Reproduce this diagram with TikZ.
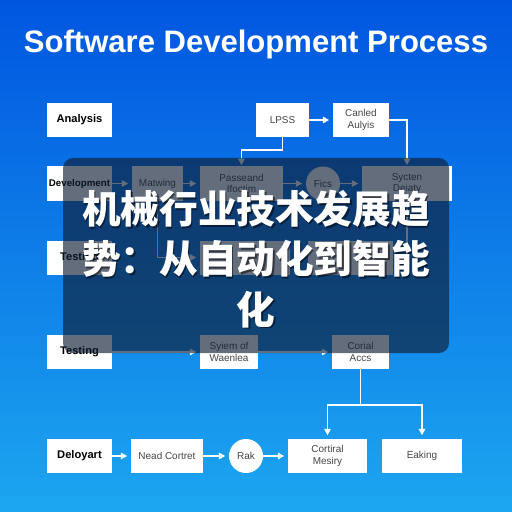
\documentclass[tikz,border=0pt]{standalone}
\usepackage{fontspec}
\setmainfont{Liberation Sans}
\newfontfamily\cjk{Noto Sans CJK SC}
\usepackage{tikz}
\usetikzlibrary{arrows.meta,positioning,calc}

\definecolor{bgtop}{RGB}{0,86,224}
\definecolor{bgbot}{RGB}{28,166,240}
\definecolor{veil}{RGB}{14,28,50}
\definecolor{labelgray}{RGB}{70,70,70}

\begin{document}
\begin{tikzpicture}[x=0.03cm, y=-0.03cm,
  >={Triangle[length=5.5pt,width=5.5pt]},
  phase/.style={fill=white, minimum width=1.95cm, minimum height=1.02cm, align=center, inner sep=0pt, font=\fontsize{9.5}{11}\selectfont\bfseries, text=black},
  proc/.style={fill=white, minimum height=1.02cm, align=center, inner sep=1pt, font=\fontsize{8.5}{10}\selectfont, text=labelgray},
  dot/.style={circle, fill=white, minimum size=1.02cm, inner sep=0pt, font=\fontsize{8.5}{10}\selectfont, text=labelgray},
  flow/.style={->, draw=white, line width=1.4pt, shorten >=3pt}]

  % background
  \fill[top color=bgtop, bottom color=bgbot] (0,0) rectangle (512,512);
  \useasboundingbox (0,0) rectangle (512,512);

  \node[font=\fontsize{26.5}{30}\selectfont\bfseries, text=white] (title) at (256,44) {Software Development Process};

  % phases - left column
  \node[phase] (analysis) at (79.5,120) {Analysis};
  \node[phase, font=\fontsize{8.3}{10}\selectfont\bfseries] (devel) at (79.5,183.5) {Development};
  \node[phase] (test1) at (79.5,257.5) {Testing};
  \node[phase] (test2) at (79.5,352) {Testing};
  \node[phase] (deploy) at (79.5,456) {Deloyart};

  % top row
  \node[proc, minimum width=1.59cm] (lpss) at (282.5,120) {LPSS};
  \node[proc, minimum width=1.68cm] (canled) at (361,120) {Canled\\Aulyis};

  % development row
  \node[proc, minimum width=1.53cm] (matwing) at (157.5,183.5) {Matwing};
  \node[proc, minimum width=2.49cm] (passe) at (241.5,183.5) {Passeand\\Ifoctim};
  \node[dot] (fics) at (323,183.5) {Fics};
  \node[proc, minimum width=2.7cm] (sycten) at (407,183.5) {Sycten\\Deiaty};

  % hidden row
  \node[proc, minimum width=2.7cm] (boxa) at (245,257.5) {};
  \node[proc, minimum width=2.55cm] (boxb) at (350,257.5) {};

  % testing row
  \node[proc, minimum width=1.74cm] (syiem) at (229,352) {Syiem of\\Waenlea};
  \node[proc, minimum width=1.71cm] (corial) at (360.5,352) {Corial\\Accs};

  % deployment row
  \node[proc, minimum width=2.16cm] (nead) at (167,456) {Nead Cortret};
  \node[dot] (rak) at (246,456) {Rak};
  \node[proc, minimum width=2.37cm] (cortiral) at (327.5,456) {Cortiral\\Mesiry};
  \node[proc, minimum width=2.4cm] (eaking) at (422,456) {Eaking};

  % connectors
  \draw[flow] (lpss) -- (canled);
  \draw[flow, shorten >=1pt] (canled.east) -| (sycten.north);
  \draw[flow, shorten >=1pt] (lpss.south) -- ++(0,13) -| (passe.north);
  \draw[flow] (devel) -- (matwing);
  \draw[flow] (matwing) -- (passe);
  \draw[flow] (passe) -- (fics);
  \draw[flow] (fics) -- (sycten);
  \draw[flow] (matwing.south) |- (boxa.west);
  \draw[flow] (sycten.south) |- (boxb.east);
  \draw[flow] (test2) -- (syiem);
  \draw[flow] (syiem) -- (corial);
  \draw[white, line width=1.4pt] (corial.south) -- ++(0,36) coordinate (split);
  \draw[flow] (split) -| (cortiral.north);
  \draw[flow] (split) -| (eaking.north);
  \draw[flow] (deploy) -- (nead);
  \draw[flow] (nead) -- (rak);
  \draw[flow] (rak) -- (cortiral);

  % overlay with caption
  \fill[veil, opacity=0.64, rounded corners=0.3cm] (63,158) rectangle (449,353);
  \node[font=\cjk\bfseries\fontsize{33}{43}\selectfont, text=black, opacity=0.5, align=center] at (257.5,260.5) {机械行业技术发展趋\\势：从自动化到智能\\化};
  \node[font=\cjk\bfseries\fontsize{33}{43}\selectfont, text=white, align=center] (caption) at (256,259) {机械行业技术发展趋\\势：从自动化到智能\\化};
\end{tikzpicture}
\end{document}
